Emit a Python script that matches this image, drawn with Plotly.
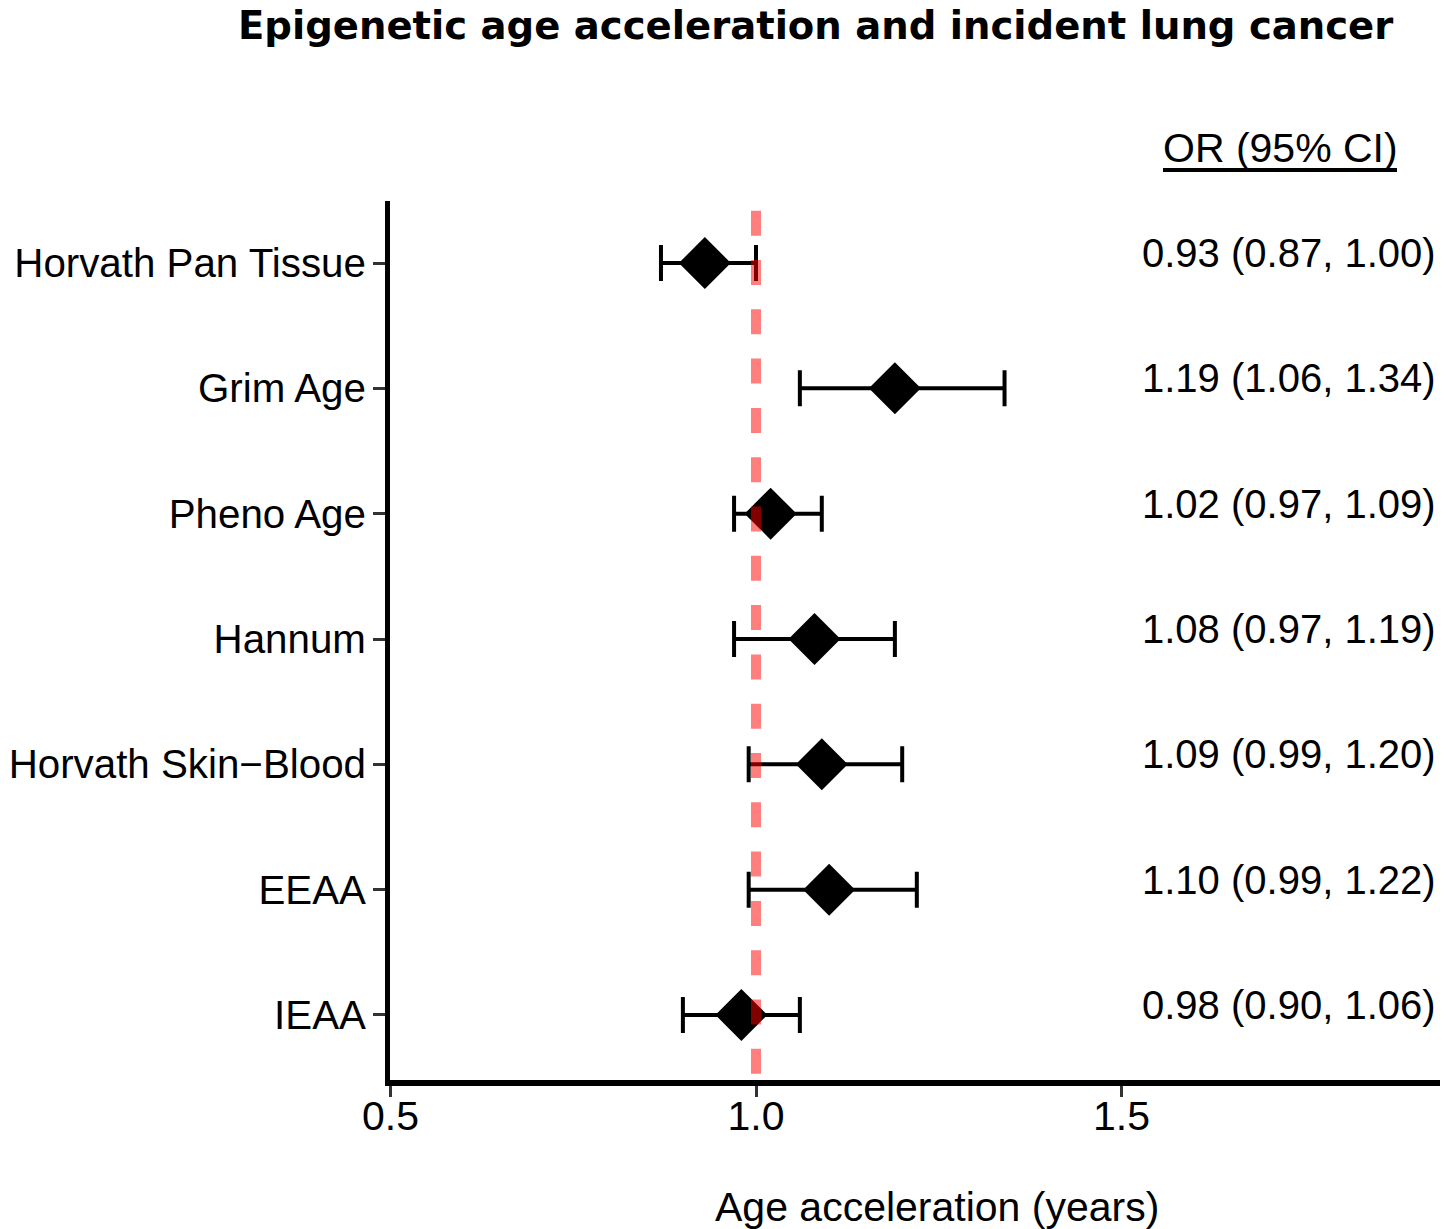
import plotly.graph_objects as go

# ---- data ----
methods = ["Horvath Pan Tissue", "Grim Age", "Pheno Age", "Hannum",
           "Horvath Skin\u2212Blood", "EEAA", "IEAA"]
odds_ratio = [0.93, 1.19, 1.02, 1.08, 1.09, 1.10, 0.98]
ci_low = [0.87, 1.06, 0.97, 0.97, 0.99, 0.99, 0.90]
ci_high = [1.00, 1.34, 1.09, 1.19, 1.20, 1.22, 1.06]
x_ticks = [0.5, 1.0, 1.5]
x_tick_labels = ["0.5", "1.0", "1.5"]
ref_value = 1.0

title_text = "Epigenetic age acceleration and incident lung cancer"
x_title = "Age acceleration (years)"
col_header = "OR (95% CI)"

FONT = "Liberation Sans, Arial, sans-serif"
OFF = 8  # page body margin
W, H = 1448 - OFF, 1229 - OFF
# panel edges in page pixels: left 390, top 201, bottom 1080, right 1448
L = 390 - OFF
T = 201 - OFF
B = (1229 - OFF) - (1080 - OFF)
R = 0
pw, ph = W - L - R, H - T - B

def px_x(p):
    return (p - OFF - L) / pw

def px_y(p):
    return (H - B - (p - OFF)) / ph

err_plus = [h - o for h, o in zip(ci_high, odds_ratio)]
err_minus = [o - l for o, l in zip(odds_ratio, ci_low)]

fig = go.Figure()
fig.add_trace(go.Scatter(
    x=odds_ratio, y=methods, mode="markers",
    marker=dict(symbol="diamond", size=40, color="black", line=dict(width=0)),
    error_x=dict(type="data", symmetric=False, array=err_plus, arrayminus=err_minus,
                 color="black", thickness=4, width=18),
    showlegend=False, hoverinfo="skip",
))

# reference dashed line at OR = 1
fig.add_shape(type="line", xref="x", yref="paper", x0=ref_value, x1=ref_value,
              y0=px_y(210.7), y1=0, layer="above",
              line=dict(color="rgba(255,0,0,0.5)", width=10, dash="25px,24.3px"))

annotations = []
for m, o, lo, hi in zip(methods, odds_ratio, ci_low, ci_high):
    annotations.append(dict(text=f"{o:.2f}", x=px_x(1222), xref="paper", y=m, yref="y",
                            xanchor="right", yanchor="middle", showarrow=False, yshift=10,
                            font=dict(family=FONT, size=40, color="black")))
    annotations.append(dict(text=f"({lo:.2f}, {hi:.2f})", x=px_x(1438), xref="paper", y=m, yref="y",
                            xanchor="right", yanchor="middle", showarrow=False, yshift=10,
                            font=dict(family=FONT, size=40, color="black")))

annotations.append(dict(text=col_header, x=px_x(1280), xref="paper", y=px_y(148), yref="paper",
                        xanchor="center", yanchor="middle", showarrow=False,
                        font=dict(family=FONT, size=41, color="black")))
annotations.append(dict(text=x_title, x=px_x(937), xref="paper", y=px_y(1207), yref="paper",
                        xanchor="center", yanchor="middle", showarrow=False,
                        font=dict(family=FONT, size=41, color="black")))
annotations.append(dict(text=f"<b>{title_text}</b>", x=px_x(815), xref="paper", y=px_y(25), yref="paper",
                        xanchor="center", yanchor="middle", showarrow=False,
                        font=dict(family="DejaVu Sans", size=38.6, color="black")))

# underline for header
fig.add_shape(type="line", xref="paper", yref="paper", x0=px_x(1163), x1=px_x(1397),
              y0=px_y(170), y1=px_y(170), line=dict(color="black", width=4))

x_left = ref_value - (756 - 390) / 731.0
x_right = x_left + pw / 731.0

fig.update_layout(
    width=W, height=H,
    margin=dict(l=L, r=R, t=T, b=B, pad=0, autoexpand=False),
    paper_bgcolor="white", plot_bgcolor="white",
    annotations=annotations,
    xaxis=dict(range=[x_left, x_right], tickvals=x_ticks, ticktext=x_tick_labels,
               automargin=False,
               showgrid=False, zeroline=False, showline=True, linecolor="black", linewidth=6,
               ticks="outside", ticklen=11, tickwidth=3, tickcolor="#333333",
               ticklabelstandoff=-16,
               tickfont=dict(family=FONT, size=41, color="black")),
    yaxis=dict(type="category", categoryorder="array", categoryarray=methods[::-1],
               range=[-0.519, 6.495], automargin=False,
               showgrid=False, zeroline=False,
               showline=True, linecolor="black", linewidth=5,
               ticks="outside", ticklen=12, tickwidth=3, tickcolor="#333333",
               ticklabelstandoff=-1,
               tickfont=dict(family=FONT, size=40.3, color="black")),
)

fig.write_html("out.html")
